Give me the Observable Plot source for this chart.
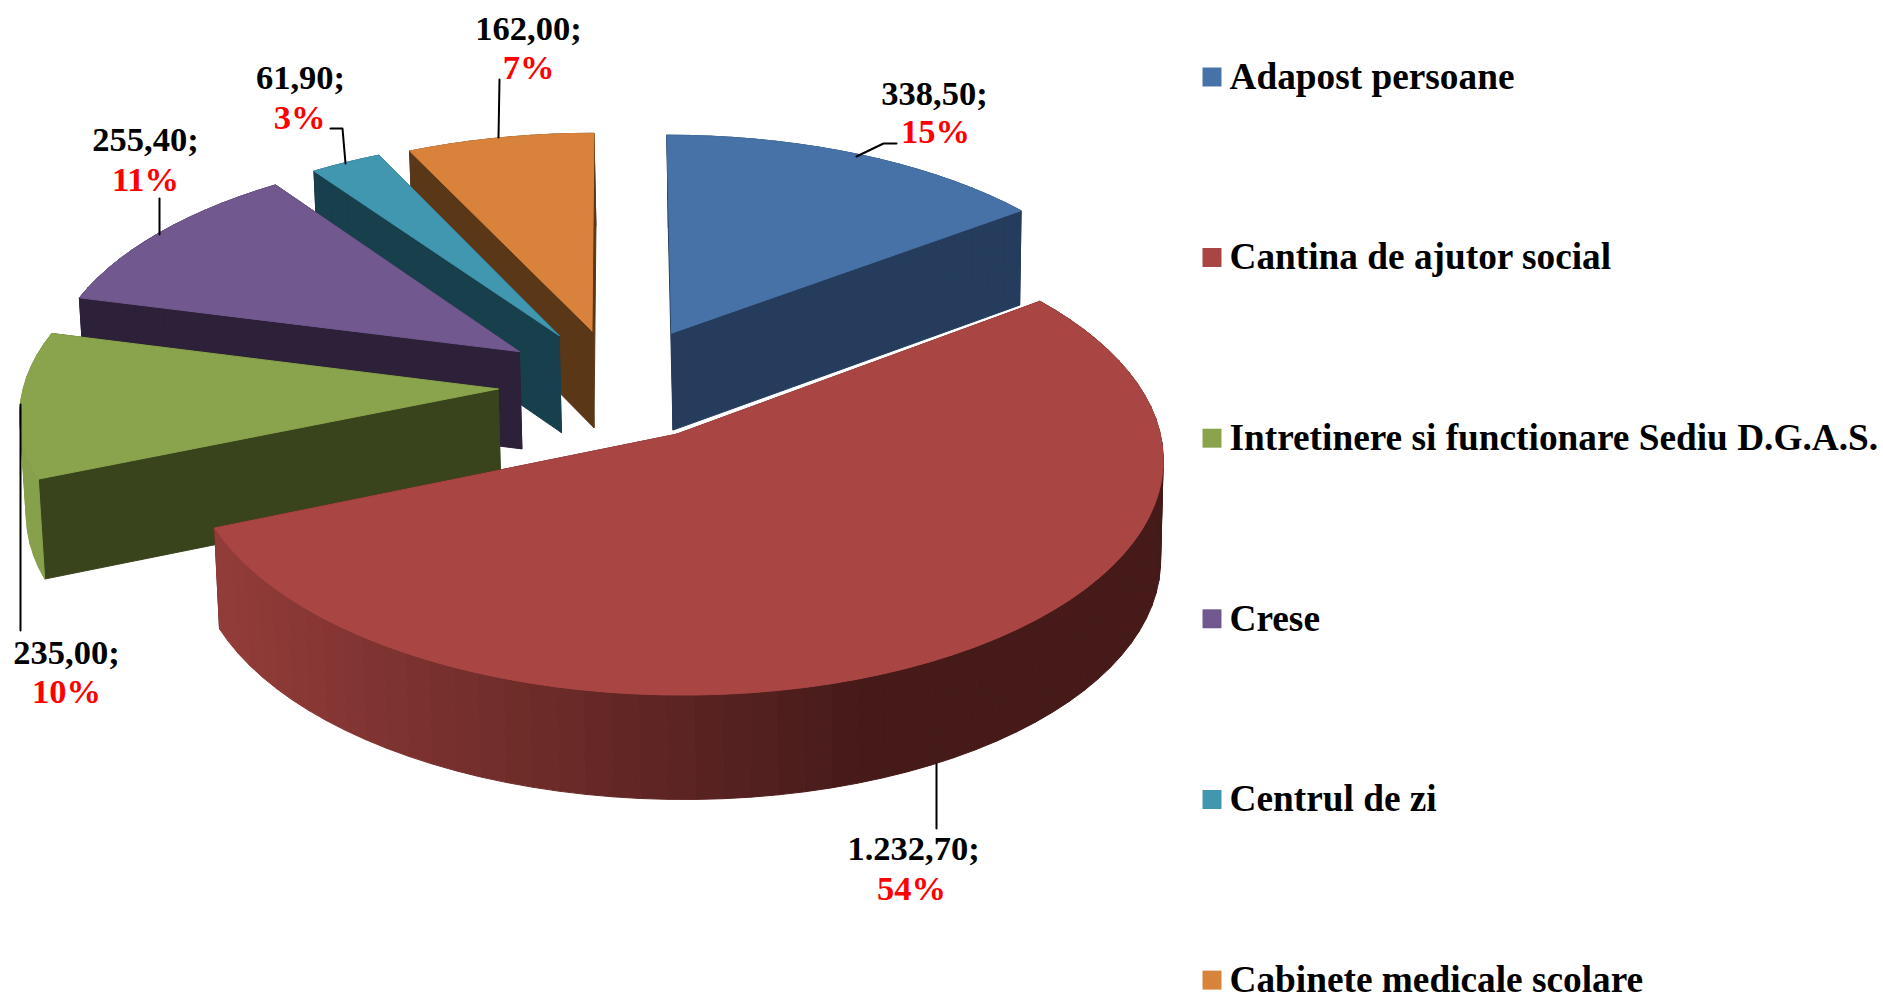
<!DOCTYPE html>
<html><head><meta charset="utf-8">
<style>html,body{margin:0;padding:0;background:#fff;overflow:hidden}svg{display:block}</style>
<script src="https://cdn.jsdelivr.net/npm/d3@7"></script>
<script src="https://cdn.jsdelivr.net/npm/@observablehq/plot@0.6"></script>
</head><body><div id="chart"></div>
<script>
const categories = ["Adapost persoane","Cantina de ajutor social","Intretinere si functionare Sediu D.G.A.S.","Crese","Centrul de zi","Cabinete medicale scolare"];
const values = [338.5,1232.7,235,255.4,61.9,162];
const topColors = ["#4672a7","#a94542","#8aa44d","#71588f","#4196b0","#d8823b"];
const wallColors = ["#253c5c","#451a19","#39441d","#2d2039","#173f4c","#5a3716"];
const rimColors = ["#253c5c",null,"#86a04b","#2d2039","#173f4c","#5a3716"];
const explodeX = [0.27,0.255,0.248,0.25,0.24,0.23];
const explodeY = [0.26,0.248,0.2825,0.26,0.256,0.249];
// painter's order, back to front
const drawOrder = [5,4,3,0,2,1];
// label and leader placement
const labelX = [934,913,66,145,300,528];
const labelY = [93,848,652,139,77,28];
const pctX = [935,911,66,145,299,528];
const pctY = [131,888,691,179,117,67];
const leaders = [
  [[856,156],[883,143],[896,143]],
  [[936,763],[936,828]],
  [[20,404],[20,630]],
  [[159,198],[159,234]],
  [[330,128],[342,128],[345,163]],
  [[499,79],[498,137]]
];
const legendY = [76.5,257,437.7,618.3,799,979.6];

const W = 1883, H = 994;
const cam = {cx:615, cy:384, R:474, S:226, k:0.095, h:98, vx:840, shrink:0.992};
function proj(X,Y,bottom){
  const p = 1/(1-cam.k*Y);
  let x = cam.cx + cam.R*X*p, y = cam.cy + cam.S*Y*p;
  if(bottom){ y += cam.h*(1+(p-1)*0.5); x = cam.vx+(x-cam.vx)*cam.shrink; }
  return [x,y];
}
const arcs = d3.pie().sort(null)(values);
const total = d3.sum(values);
const slices = arcs.map((a,i)=>{
  const mid=(a.startAngle+a.endAngle)/2;
  const ox=explodeX[i]*Math.sin(mid), oy=-explodeY[i]*Math.cos(mid);
  const rim=[]; const n=Math.max(4,Math.ceil((a.endAngle-a.startAngle)/(Math.PI/60)));
  for(let j=0;j<=n;j++){const t=a.startAngle+(a.endAngle-a.startAngle)*j/n; rim.push([ox+Math.sin(t),oy-Math.cos(t)]);}
  return {i,ox,oy,rim};
});
const redShade = d3.scaleLinear().domain([220,870]).range(["#923c39","#451a19"]).clamp(true);
const polys=[]; let pid=0;
function add(pts,color){const id=pid++; [...pts,pts[0]].forEach(p=>polys.push({id,x:p[0],y:p[1],color}));}
for(const i of drawOrder){
  const s=slices[i], A=[s.ox,s.oy];
  // radial walls
  for(const q of [s.rim[0],s.rim[s.rim.length-1]]){
    add([proj(...A),proj(...q),proj(...q,true),proj(...A,true)],wallColors[i]);
  }
  // rim strips
  for(let j=0;j<s.rim.length-1;j++){
    const a=s.rim[j],b=s.rim[j+1];
    const pa=proj(...a), pb=proj(...b);
    const col = i===1 ? redShade((pa[0]+pb[0])/2) : rimColors[i];
    add([pa,pb,proj(...b,true),proj(...a,true)],col);
  }
  // top face
  add([proj(...A),...s.rim.map(q=>proj(...q))],topColors[i]);
}
const fmt = d3.formatLocale({decimal:",",thousands:".",grouping:[3]}).format(",.2f");
const labels = values.map((v,i)=>({i,t:fmt(v)+";",p:Math.round(v/total*100)+"%",x:labelX[i],y:labelY[i],px:pctX[i],py:pctY[i]}));
const leaderRows = leaders.flatMap((l,i)=>l.map(p=>({i,x:p[0],y:p[1]})));
const legend = categories.map((c,i)=>({c,y:legendY[i],color:topColors[i]}));
const labelFont = {fontFamily:"Liberation Serif",fontWeight:"bold",fontSize:34.5};
const legendFont = {fontFamily:"Liberation Serif",fontWeight:"bold",fontSize:37.3};
const chart = Plot.plot({
  width:W,height:H,margin:0,
  x:{domain:[0,W],range:[0,W],axis:null},
  y:{domain:[0,H],range:[0,H],axis:null},
  style:{background:"#fff"},
  marks:[
    Plot.line(polys,{x:"x",y:"y",z:"id",fill:"color",stroke:"color",strokeWidth:1,curve:"linear"}),
    Plot.line(leaderRows,{x:"x",y:"y",z:"i",stroke:"#000",strokeWidth:2}),
    Plot.text(labels,{x:"x",y:"y",text:"t",fill:"#000",...labelFont}),
    Plot.text(labels,{x:"px",y:"py",text:"p",fill:"#f00",...labelFont}),
    Plot.dot(legend,{x:1211.5,y:"y",symbol:"square",r:10.7,fill:"color",stroke:"none"}),
    Plot.text(legend,{x:1229,y:"y",text:"c",textAnchor:"start",fill:"#000",...legendFont})
  ]
});
document.getElementById("chart").append(chart);
</script></body></html>
